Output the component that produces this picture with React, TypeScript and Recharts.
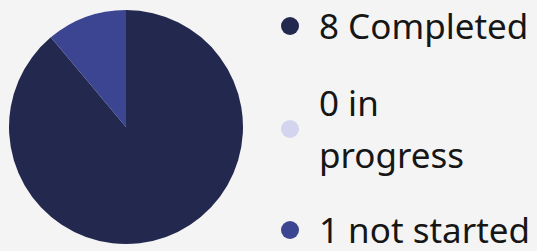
import { PieChart, Pie, Cell, Legend } from 'recharts';

const statusLabels = ['Completed', 'in progress', 'not started'];
const statusCounts = [8, 0, 1];
const statusColors = ['#23284f', '#d3d5ee', '#3c4592'];
const itemGaps = [24, 22, 0];

const chartData = statusLabels.map((label, i) => ({ name: label, value: statusCounts[i] }));

function StatusLegend() {
  return (
    <div style={{ fontFamily: '"Noto Sans", sans-serif', fontSize: 35, lineHeight: 1.5, color: '#161616' }}>
      {statusLabels.map((label, i) => (
        <div key={label} style={{ display: 'flex', alignItems: 'center', marginBottom: itemGaps[i] }}>
          <span
            style={{
              width: 18, height: 18, borderRadius: '50%', background: statusColors[i],
              marginRight: 20, flexShrink: 0,
            }}
          />
          <span style={{ width: 212 }}>{`${statusCounts[i]} ${label}`}</span>
        </div>
      ))}
    </div>
  );
}

export default function App() {
  return (
    <div style={{ position: 'fixed', left: 0, top: 0, width: 537, height: 251, background: '#f4f4f4', overflow: 'hidden' }}>
      <PieChart width={537} height={251} margin={{ top: 0, right: 0, bottom: 0, left: 0 }}>
        <Pie
          data={chartData}
          dataKey="value"
          nameKey="name"
          cx={126}
          cy={127}
          outerRadius={117}
          startAngle={90}
          endAngle={-270}
          stroke="none"
          isAnimationActive={false}
        >
          {chartData.map((d, i) => (
            <Cell key={d.name} fill={statusColors[i]} />
          ))}
        </Pie>
        <Legend content={<StatusLegend />} wrapperStyle={{ left: 281, top: 0, width: 260 }} />
      </PieChart>
    </div>
  );
}
